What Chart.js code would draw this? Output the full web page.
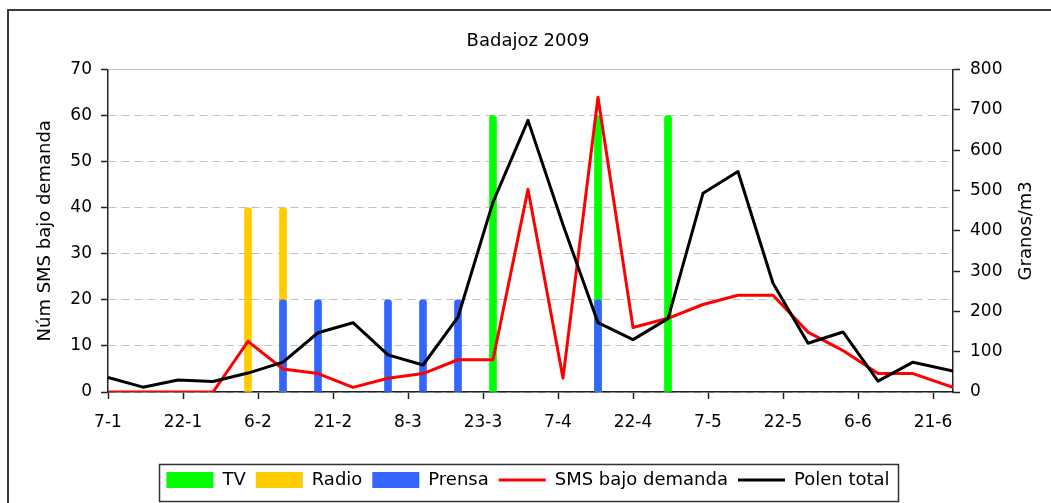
<!DOCTYPE html>
<html>
<head>
<meta charset="utf-8">
<script src="https://cdn.jsdelivr.net/npm/chart.js@4/dist/chart.umd.min.js"></script>
<style>
html,body{margin:0;padding:0;background:#fff;overflow:hidden;}
#wrap{position:relative;width:1051px;height:503px;background:#fff;}
#c{position:absolute;left:0;top:0;}
#frame{position:absolute;left:7px;top:9px;width:1100px;height:600px;border-left:2px solid #3a3a3a;border-top:2px solid #3a3a3a;pointer-events:none;}
</style>
</head>
<body>
<div id="wrap"><canvas id="c" width="1051" height="503"></canvas><div id="frame"></div></div>
<script>
// ---- data ----
const chartTitle = 'Badajoz 2009';
const leftAxisTitle = 'Núm SMS bajo demanda';
const rightAxisTitle = 'Granos/m3';
// sample positions, in days since 7-1
const sampleDays = [0, 7, 14, 21, 28, 35, 42, 49, 56, 63, 70, 77, 84, 91, 98, 105, 112, 119, 126, 133, 140, 147, 154, 161, 169];
// x tick positions (days since 7-1) and labels
const tickDays = [0, 15, 30, 45, 60, 75, 90, 105, 120, 135, 150, 165];
const tickLabels = ['7-1', '22-1', '6-2', '21-2', '8-3', '23-3', '7-4', '22-4', '7-5', '22-5', '6-6', '21-6'];
// campaigns (left axis)
const tvValues     = [null, null, null, null, null, null, null, null, null, null, null, 60, null, null, 60, null, 60, null, null, null, null, null, null, null, null];
const radioValues  = [null, null, null, null, 40, 40, null, null, null, null, null, null, null, null, null, null, null, null, null, null, null, null, null, null, null];
const prensaValues = [null, null, null, null, null, 20, 20, null, 20, 20, 20, null, null, null, 20, null, null, null, null, null, null, null, null, null, null];
// SMS bajo demanda (left axis)
const smsValues   = [0, 0, 0, 0, 11, 5, 4, 1, 3, 4, 7, 7, 44, 3, 64, 14, 16, 19, 21, 21, 13, 9, 4, 4, 1];
// Polen total (right axis, granos/m3)
const polenValues = [36, 12, 30, 26, 47, 74, 147, 172, 92, 67, 186, 471, 674, 415, 172, 130, 182, 493, 547, 270, 121, 149, 27, 74, 52];

function toPoints(values) {
  const pts = [];
  values.forEach((v, i) => { if (v !== null) pts.push({x: sampleDays[i], y: v}); });
  return pts;
}

const FONT = "'DejaVu Sans', sans-serif";
Chart.defaults.font.family = FONT;
Chart.defaults.color = '#000';

const legendBox = {
  id: 'legendBox',
  afterDraw(chart) {
    const lg = chart.legend;
    if (!lg || !lg.legendHitBoxes || !lg.legendHitBoxes.length) return;
    const hb = lg.legendHitBoxes;
    const x1 = hb[0].left - 7;
    const last = hb[hb.length - 1];
    const x2 = last.left + last.width + 9;
    const ctx = chart.ctx;
    ctx.save();
    ctx.strokeStyle = '#333';
    ctx.lineWidth = 1.5;
    ctx.strokeRect(Math.round(x1) + 0.5, Math.round(lg.top + 3) + 0.5, Math.round(x2 - x1), 37);
    ctx.restore();
  }
};

const rightTitle = {
  id: 'rightTitle',
  afterDraw(chart) {
    const a = chart.chartArea;
    const ctx = chart.ctx;
    ctx.save();
    ctx.font = '18px ' + FONT;
    ctx.fillStyle = '#000';
    ctx.textAlign = 'center';
    ctx.textBaseline = 'middle';
    ctx.translate(1026, (a.top + a.bottom) / 2);
    ctx.rotate(-Math.PI / 2);
    ctx.fillText(rightAxisTitle, 0, 0);
    ctx.restore();
  }
};

new Chart(document.getElementById('c'), {
  type: 'bar',
  data: {
    datasets: [
      {type: 'bar', label: 'TV', data: toPoints(tvValues), backgroundColor: '#00ff00', borderWidth: 0, yAxisID: 'y', grouped: false, barThickness: 7, borderRadius: 3, order: 4},
      {type: 'bar', label: 'Radio', data: toPoints(radioValues), backgroundColor: '#ffcc00', borderWidth: 0, yAxisID: 'y', grouped: false, barThickness: 7, borderRadius: 3, order: 3},
      {type: 'bar', label: 'Prensa', data: toPoints(prensaValues), backgroundColor: '#3366ff', borderWidth: 0, yAxisID: 'y', grouped: false, barThickness: 7, borderRadius: 3, order: 2},
      {type: 'line', label: 'SMS bajo demanda', data: toPoints(smsValues), borderColor: '#ff0000', backgroundColor: '#ff0000', borderWidth: 3, pointRadius: 0, tension: 0, borderJoinStyle: 'round', yAxisID: 'y', order: 1},
      {type: 'line', label: 'Polen total', data: toPoints(polenValues), borderColor: '#000000', backgroundColor: '#000000', borderWidth: 3, pointRadius: 0, tension: 0, borderJoinStyle: 'round', yAxisID: 'y2', order: 0}
    ]
  },
  options: {
    responsive: false,
    animation: false,
    devicePixelRatio: 1,
    layout: {padding: {left: 5, right: 0, top: 0, bottom: 4}},
    plugins: {
      title: {display: true, text: chartTitle, color: '#000', font: {size: 18, weight: 'normal', family: FONT}, padding: {top: 31, bottom: 17}},
      legend: {
        position: 'bottom',
        labels: {
          usePointStyle: true, pointStyleWidth: 47, boxHeight: 16, padding: 10, color: '#000',
          font: {size: 18, family: FONT},
          generateLabels(chart) {
            const items = Chart.defaults.plugins.legend.labels.generateLabels(chart);
            items.forEach(it => {
              const ds = chart.data.datasets[it.datasetIndex];
              if (ds.type === 'line') { it.pointStyle = 'line'; it.lineWidth = 3; it.strokeStyle = ds.borderColor; }
              else { it.pointStyle = 'rect'; it.lineWidth = 0; it.fillStyle = ds.backgroundColor; }
            });
            items.sort((a, b) => a.datasetIndex - b.datasetIndex);
            return items;
          }
        }
      },
      tooltip: {enabled: false}
    },
    scales: {
      x: {
        type: 'linear', min: 0, max: 169, offset: false,
        afterBuildTicks: s => { s.ticks = tickDays.map(v => ({value: v})); },
        ticks: {callback: (v, i) => tickLabels[i], font: {size: 17}, padding: 13, maxRotation: 0, autoSkip: false, color: '#000'},
        grid: {offset: false, drawOnChartArea: false, drawTicks: true, tickLength: 7, tickColor: '#222', tickWidth: 1.5},
        border: {color: '#222', width: 1.5},
        afterFit: s => { s.height = 69; }
      },
      y: {
        position: 'left', min: 0, max: 70,
        ticks: {stepSize: 10, font: {size: 17}, padding: 9, color: '#000'},
        grid: {color: '#c0c0c0', lineWidth: 1, tickColor: '#222', tickLength: 7, tickWidth: 1.5},
        border: {color: '#222', width: 1.5, dash: ctx => (ctx.tick && ctx.tick.value === 70) ? [] : [8, 5]},
        title: {display: true, text: leftAxisTitle, font: {size: 18}, color: '#000', padding: {top: 30, bottom: 0}},
        afterFit: s => { s.width = 103; }
      },
      y2: {
        position: 'right', min: 0, max: 800,
        ticks: {stepSize: 100, font: {size: 17}, padding: 10, color: '#000'},
        grid: {drawOnChartArea: false, tickColor: '#222', tickLength: 7, tickWidth: 1.5},
        border: {color: '#222', width: 1.5},
        afterFit: s => { s.width = 98; }
      }
    }
  },
  plugins: [legendBox, rightTitle]
});
</script>
</body>
</html>
